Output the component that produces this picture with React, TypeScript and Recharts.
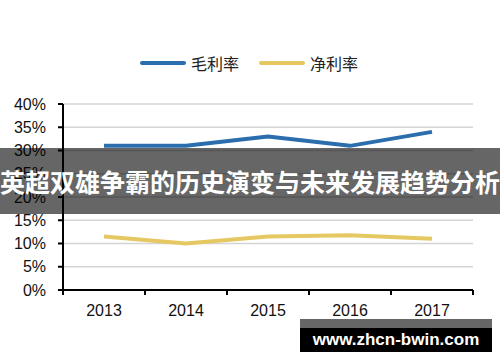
import React from "react";
import { LineChart, Line, XAxis, YAxis, CartesianGrid } from "recharts";

const years = ["2013", "2014", "2015", "2016", "2017"];
const grossMargin = [31, 31, 33, 31, 34];
const netMargin = [11.5, 10, 11.5, 11.8, 11];
const yTicks = [0, 5, 10, 15, 20, 25, 30, 35, 40];

const data = years.map((year, i) => ({ year, gross: grossMargin[i], net: netMargin[i] }));

const W = 500;
const H = 362;
const LEFT = 63;
const RIGHT = 27;
const BAND = (W - LEFT - RIGHT) / years.length;

const BLUE = "#2b6ead";
const YELLOW = "#e6c862";
const tickFont = "'Liberation Sans', Arial, sans-serif";

const XTick = (props: any) => {
  const { x, y, payload, index } = props;
  const last = index === years.length - 1;
  return (
    <g>
      <line x1={x - BAND / 2} x2={x - BAND / 2} y1={y - 8} y2={y - 3} stroke="#000" strokeWidth={2} />
      {last && <line x1={x + BAND / 2} x2={x + BAND / 2} y1={y - 8} y2={y - 3} stroke="#000" strokeWidth={2} />}
      <text x={x} y={y + 18} textAnchor="middle" fontSize={16} fontFamily={tickFont} fill="#111">
        {payload.value}
      </text>
    </g>
  );
};

const LegendItem = ({ color, label }: { color: string; label: string }) => (
  <div style={{ display: "flex", alignItems: "center", marginRight: 20 }}>
    <div style={{ width: 46, height: 4, borderRadius: 2, background: color, marginRight: 5 }} />
    <span style={{ fontSize: 16, color: "#222", fontFamily: "'Noto Sans CJK SC', sans-serif" }}>{label}</span>
  </div>
);

export default function App() {
  return (
    <div style={{ position: "absolute", left: 0, top: 0, width: W, height: H, background: "#fff", overflow: "hidden" }}>
      <div style={{ position: "absolute", top: 51, left: 140, display: "flex" }}>
        <LegendItem color={BLUE} label="毛利率" />
        <LegendItem color={YELLOW} label="净利率" />
      </div>
      <LineChart width={W} height={H} data={data} margin={{ top: 104, right: RIGHT, bottom: 42, left: 0 }}>
        <CartesianGrid vertical={false} stroke="#d4d4d4" strokeWidth={1.5} />
        <XAxis
          dataKey="year"
          height={30}
          padding={{ left: BAND / 2, right: BAND / 2 }}
          axisLine={{ stroke: "#000", strokeWidth: 2 }}
          tickLine={false}
          tick={<XTick />}
          interval={0}
        />
        <YAxis
          width={LEFT}
          domain={[0, 40]}
          ticks={yTicks}
          tickFormatter={(v: number) => `${v}%`}
          axisLine={{ stroke: "#000", strokeWidth: 2 }}
          tickLine={{ stroke: "#000", strokeWidth: 2 }}
          tickSize={5}
          tickMargin={12}
          tick={{ fontSize: 16, fill: "#111", fontFamily: tickFont }}
        />
        <Line dataKey="gross" stroke={BLUE} strokeWidth={4} dot={false} isAnimationActive={false} />
        <Line dataKey="net" stroke={YELLOW} strokeWidth={4} dot={false} isAnimationActive={false} />
      </LineChart>
      <div
        style={{
          position: "absolute",
          left: 0,
          top: 148,
          width: W,
          height: 66,
          background: "rgba(0,0,0,0.6)",
          color: "#fff",
          fontWeight: 700,
          fontSize: 25,
          lineHeight: "66px",
          textAlign: "center",
          whiteSpace: "nowrap",
          fontFamily: "'Noto Sans CJK SC', sans-serif",
        }}
      >
        英超双雄争霸的历史演变与未来发展趋势分析
      </div>
      <div style={{ position: "absolute", left: 300, top: 319, width: 192, height: 9, background: "rgba(0,0,0,0.6)" }} />
      <div
        style={{
          position: "absolute",
          left: 300,
          top: 328,
          width: 192,
          height: 24,
          background: "#000",
          color: "#fff",
          fontWeight: 700,
          fontSize: 17,
          lineHeight: "24px",
          textAlign: "center",
          whiteSpace: "nowrap",
          fontFamily: "'Liberation Sans', Arial, sans-serif",
        }}
      >
        www.zhcn-bwin.com
      </div>
    </div>
  );
}
